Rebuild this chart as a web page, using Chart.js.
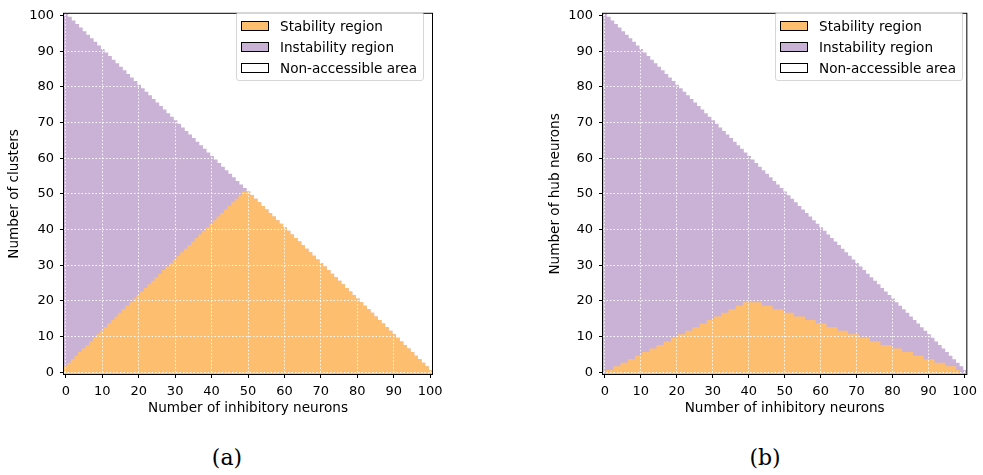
<!DOCTYPE html>
<html lang="en">
<head>
  <meta charset="UTF-8" />
  <title>Stability regions</title>
  <style>
    body { margin: 0; background: #fff; }
    #figure { position: relative; width: 983px; height: 475px; overflow: hidden; }
    .panel { position: absolute; top: 0; }
    .legend {
      position: absolute;
      width: 186px;
      padding: 2px 0;
      border: 1px solid #d6d6d6;
      border-radius: 3px;
      background: rgba(255, 255, 255, 0.8);
      font-family: "DejaVu Sans", sans-serif;
      font-size: 13.6px;
      color: #000;
    }
    .legend .row { display: flex; align-items: center; height: 21px; }
    .legend .patch {
      box-sizing: border-box;
      width: 28px; height: 10px;
      margin-left: 4px; margin-right: 11px;
      border: 1px solid #000;
    }
    .caption {
      position: absolute;
      width: 100px;
      text-align: center;
      font-family: "DejaVu Serif", serif;
      font-size: 22px;
      line-height: 26px;
      color: #000;
    }
  </style>
</head>
<body>
  <div id="figure">
    <div class="panel" id="panelA" style="left:0;width:470px;height:430px">
      <canvas id="chartA"></canvas>
      <div class="legend" id="legendA" style="left:236px;top:12px"></div>
    </div>
    <div class="panel" id="panelB" style="left:541px;width:442px;height:430px">
      <canvas id="chartB"></canvas>
      <div class="legend" id="legendB" style="left:234px;top:12px"></div>
    </div>
    <div class="caption" style="left:177px;top:445px">(a)</div>
    <div class="caption" style="left:715px;top:445px">(b)</div>
  </div>

  <script src="https://cdn.jsdelivr.net/npm/chart.js"></script>
  <script>
    // x: number of inhibitory neurons (one cell per value)
    const inhibitory = [0,1,2,3,4,5,6,7,8,9,10,11,12,13,14,15,16,17,18,19,20,21,22,23,24,25,26,27,28,29,30,31,32,33,34,35,36,37,38,39,40,41,42,43,44,45,46,47,48,49,50,51,52,53,54,55,56,57,58,59,60,61,62,63,64,65,66,67,68,69,70,71,72,73,74,75,76,77,78,79,80,81,82,83,84,85,86,87,88,89,90,91,92,93,94,95,96,97,98,99,100];

    // highest accessible y value for each x (above it: non-accessible area)
    const accessibleTop = [100,99,98,97,96,95,94,93,92,91,90,89,88,87,86,85,84,83,82,81,80,79,78,77,76,75,74,73,72,71,70,69,68,67,66,65,64,63,62,61,60,59,58,57,56,55,54,53,52,51,50,49,48,47,46,45,44,43,42,41,40,39,38,37,36,35,34,33,32,31,30,29,28,27,26,25,24,23,22,21,20,19,18,17,16,15,14,13,12,11,10,9,8,7,6,5,4,3,2,1,0];

    // highest stable y value for each x (-1 = no stable cell)
    const stableTopA = [1,2,3,4,5,6,7,8,9,10,11,12,13,14,15,16,17,18,19,20,21,22,23,24,25,26,27,28,29,30,31,32,33,34,35,36,37,38,39,40,41,42,43,44,45,46,47,48,49,50,50,49,48,47,46,45,44,43,42,41,40,39,38,37,36,35,34,33,32,31,30,29,28,27,26,25,24,23,22,21,20,19,18,17,16,15,14,13,12,11,10,9,8,7,6,5,4,3,2,1,0];
    const stableTopB = [-1,0,0,1,1,2,2,3,3,4,4,5,5,6,6,7,7,8,8,9,9,10,10,11,11,12,12,13,13,14,14,15,15,16,16,17,17,18,18,19,19,19,19,19,18,18,18,17,17,17,16,16,16,15,15,15,14,14,14,13,13,13,12,12,12,11,11,11,10,10,10,9,9,9,8,8,8,7,7,7,6,6,6,5,5,5,4,4,4,3,3,3,2,2,2,1,1,1,0,-1,-1];

    const xTicks = [0,10,20,30,40,50,60,70,80,90,100];
    const yTicks = [0,10,20,30,40,50,60,70,80,90,100];
    const xTitle = "Number of inhibitory neurons";
    const yTitleA = "Number of clusters";
    const yTitleB = "Number of hub neurons";
    const legendLabels = ["Stability region", "Instability region", "Non-accessible area"];

    const ORANGE = "#fdbf6f";
    const PURPLE = "#cab2d6";
    const legendColors = [ORANGE, PURPLE, "#ffffff"];
    const TICK_FONT = { family: "'DejaVu Sans', sans-serif", size: 13 };
    const TITLE_FONT = { family: "'DejaVu Sans', sans-serif", size: 13.6 };
    const GRID_DASH = [1.5, 2];

    function cells(tops) {
      return inhibitory.map((x, i) => ({ x: x, y: tops[i] < 0 ? null : [-0.5, tops[i] + 0.5] }));
    }

    const frame = {
      id: "frame",
      afterDraw(chart) {
        const { ctx, chartArea: a } = chart;
        ctx.save();
        ctx.strokeStyle = "#000";
        ctx.lineWidth = 1;
        ctx.strokeRect(a.left - 0.5, a.top - 0.5, a.right - a.left + 1, a.bottom - a.top + 1);
        ctx.restore();
      }
    };

    function axis(ticks, title, fitFn, padTicks, titlePad) {
      return {
        type: "linear",
        min: -0.5,
        max: 100.5,
        offset: false,
        afterBuildTicks: s => { s.ticks = ticks.map(v => ({ value: v })); },
        afterFit: fitFn,
        grid: {
          z: 1,
          offset: false,
          color: "rgba(255,255,255,0.95)",
          lineWidth: 1,
          drawTicks: true,
          tickLength: 4,
          tickColor: "#000",
          tickWidth: 1,
          tickBorderDash: []
        },
        // in v4 the grid lines take their dash pattern from border.dash
        border: { display: false, dash: GRID_DASH },
        ticks: { color: "#000", font: TICK_FONT, padding: padTicks, maxRotation: 0, autoSkip: false },
        title: { display: true, text: title, color: "#000", font: TITLE_FONT, padding: titlePad }
      };
    }

    function makePanel(canvasId, stableTop, yTitle, yWidth, rightPad) {
      new Chart(document.getElementById(canvasId), {
        type: "bar",
        data: {
          datasets: [
            {
              label: legendLabels[0],
              data: cells(stableTop),
              backgroundColor: ORANGE,
              grouped: false,
              barPercentage: 1,
              categoryPercentage: 1,
              borderWidth: 0,
              inflateAmount: 0.5
            },
            {
              label: legendLabels[1],
              data: cells(accessibleTop),
              backgroundColor: PURPLE,
              grouped: false,
              barPercentage: 1,
              categoryPercentage: 1,
              borderWidth: 0,
              inflateAmount: 0.5
            }
          ]
        },
        options: {
          responsive: true,
          maintainAspectRatio: false,
          animation: false,
          layout: { padding: { top: 6, right: rightPad, left: 0, bottom: 0 } },
          plugins: { legend: { display: false }, tooltip: { enabled: false } },
          scales: {
            x: axis(xTicks, xTitle, s => { s.height = 56; }, 6, { top: 0, bottom: 13 }),
            y: axis(yTicks, yTitle, s => { s.width = yWidth; }, 6, { top: 6, bottom: 0 })
          }
        },
        plugins: [frame]
      });
    }

    function makeLegend(id) {
      const box = document.getElementById(id);
      legendLabels.forEach((name, i) => {
        const row = document.createElement("div");
        row.className = "row";
        const patch = document.createElement("span");
        patch.className = "patch";
        patch.style.background = legendColors[i];
        const text = document.createElement("span");
        text.textContent = name;
        row.appendChild(patch);
        row.appendChild(text);
        box.appendChild(row);
      });
    }

    makePanel("chartA", stableTopA, yTitleA, 64, 38);
    makePanel("chartB", stableTopB, yTitleB, 62, 12);
    makeLegend("legendA");
    makeLegend("legendB");
  </script>
</body>
</html>
